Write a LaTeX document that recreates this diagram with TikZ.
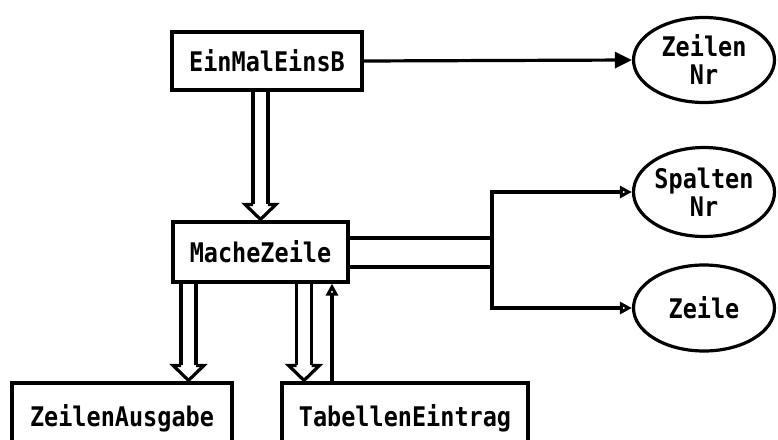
\documentclass[tikz,border=0pt]{standalone}
\usepackage{fontspec}
\setmonofont{DejaVu Sans Mono}
\usetikzlibrary{arrows.meta,shapes.geometric,calc}
\newcommand{\T}[1]{\scalebox{1}[1.15]{#1}}
\newcommand{\DblArr}[2]{%
  \draw[conn] (#1) ++(-7.5,0) -- ($(#2)+(-7.5,-15)$);
  \draw[conn] (#1) ++(7.5,0) -- ($(#2)+(7.5,-15)$);
  \draw[conn,line join=miter] ($(#2)+(-7.5,-15)$) -- ++(-8,0) -- (#2) -- ++(15.5,-15) -- ++(-8,0);
}
\begin{document}
\begin{tikzpicture}[x=1pt,y=-1pt,
  lbl/.style={font=\ttfamily\bfseries\fontsize{23.5}{28}\selectfont},
  box/.style={lbl,draw,line width=3.2pt,rectangle,inner sep=0pt},
  oval/.style={lbl,draw,line width=3.2pt,ellipse,inner sep=0pt,align=center,minimum width=141pt},
  conn/.style={line width=3.2pt},
  solidtip/.style={-{Triangle[length=17pt,width=16pt]}},
  opentip/.style={-{Triangle[open,length=12pt,width=12pt]}},
]
\useasboundingbox (0,0) rectangle (778,439);
\fill[white] (0,0) rectangle (778,439);
\clip (0,0) rectangle (778,439);
% nodes
\node[box,minimum width=190pt,minimum height=58pt] (ein) at (267,61) {\T{EinMalEinsB}};
\node[box,minimum width=175pt,minimum height=60pt] (mache) at (260.5,252) {\T{MacheZeile}};
\node[box,minimum width=220pt,minimum height=70pt] (zaus) at (122,418) {\T{ZeilenAusgabe}};
\node[box,minimum width=246pt,minimum height=70pt] (tab) at (405,418) {\T{TabellenEintrag}};
\node[oval,minimum height=85pt] (zn) at (704,60) {\T{Zeilen}\\\T{Nr}};
\node[oval,minimum height=89pt] (sn) at (704,192) {\T{Spalten}\\\T{Nr}};
\node[oval,minimum height=86pt] (ze) at (704,308) {\T{Zeile}};
% helper coordinates
\coordinate (a1) at (260.5,0);
\coordinate (a2) at (188.5,0);
\coordinate (a3) at (304,0);
\coordinate (a4) at (332,0);
\coordinate (bend) at (492,0);
% connectors
\draw[conn,solidtip] (ein.east) -- (zn.west);
\draw[conn,opentip] ([yshift=-15pt]mache.east) -| (bend |- sn.west) -- (sn.west);
\draw[conn,opentip] ([yshift=14pt]mache.east) -| (bend |- ze.west) -- (ze.west);
\DblArr{ein.south -| a1}{$(mache.north -| a1)+(0,-1)$}
\DblArr{mache.south -| a2}{$(zaus.north -| a2)+(0,-1)$}
\DblArr{mache.south -| a3}{$(tab.north -| a3)+(0,-1)$}
\draw[conn,opentip] (tab.north -| a4) -- (mache.south -| a4);
\end{tikzpicture}
\end{document}
